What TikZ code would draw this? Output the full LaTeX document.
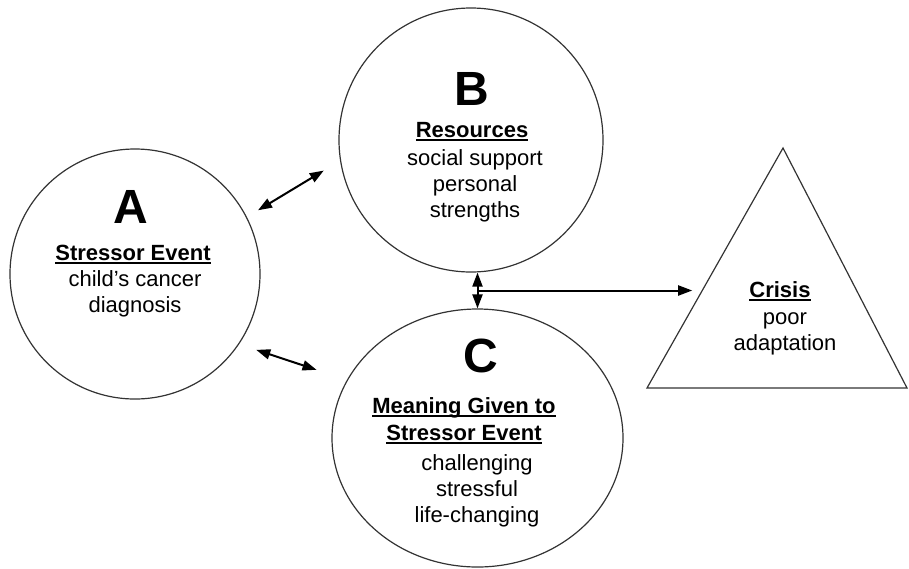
\documentclass[tikz,border=0pt]{standalone}
\usepackage{fontspec}
\setmainfont{Liberation Sans}
\usetikzlibrary{shapes.geometric,arrows.meta,calc}
\newsavebox\ulsave
\newcommand{\ulbox}[1]{\sbox\ulsave{#1}\rlap{\rule[-2pt]{\wd\ulsave}{0.8pt}}\usebox\ulsave}
\begin{document}
\begin{tikzpicture}[x=0.5pt,y=-0.5pt,
  ring/.style={draw=black!80,line width=0.6pt,inner sep=0pt},
  letter/.style={font=\fontsize{24}{24}\selectfont\bfseries,anchor=base,inner sep=0pt},
  head/.style={font=\fontsize{11}{13.5}\selectfont\bfseries,anchor=base,align=center,inner sep=0pt},
  body/.style={font=\fontsize{11}{13}\selectfont,anchor=base,align=center,inner sep=0pt},
  dbl/.style={{Triangle[length=7pt,width=5pt]}-{Triangle[length=7pt,width=5pt]},line width=1pt},
  one/.style={-{Triangle[length=7pt,width=5pt]},line width=1pt}]
 		\useasboundingbox (0,0) rectangle (909,568);
 		% the three factors
 		\node[ring,circle,minimum size=125pt] (nA) at (135,274) {};
 		\node[ring,circle,minimum size=132pt] (nB) at (471,140) {};
 		\node[ring,ellipse,minimum width=145.5pt,minimum height=129pt] (nC) at (477.5,438) {};
 		% crisis triangle
 		\coordinate (apex) at (783,148);
 		\coordinate (baseL) at (647,388);
 		\coordinate (baseR) at (907,388);
 		\draw[ring] (apex) -- (baseL) -- (baseR) -- cycle;
 		\coordinate (hit) at ($(apex)!0.594!(baseL)$);
 		% texts (base = last line)
 		\node[letter] (tA) at (131,223) {A};
 		\node[head] (hA) at (133,260) {\ulbox{Stressor Event}};
 		\node[body] (bA) at (135,312) {child's cancer\\diagnosis};
 		\node[letter] (tB) at (472,105) {B};
 		\node[head] (hB) at (472,137) {\ulbox{Resources}};
 		\node[body] (bB) at (475,217) {social support\\personal\\strengths};
 		\node[letter] (tC) at (481,372) {C};
 		\node[head] (hC) at (464,440) {\ulbox{Meaning Given to}\\\ulbox{Stressor Event}};
 		\node[body] (bC) at (477,522) {challenging\\stressful\\life-changing};
 		\node[head] (hD) at (780,297) {\ulbox{Crisis}};
 		\node[body] (bD) at (785,350) {poor\\adaptation};
 		% connectors
 		\draw[dbl,shorten <=6.5pt,shorten >=9.5pt] (nA.27) -- (nB.189);
 		\draw[dbl,shorten <=9pt,shorten >=16pt] (nA.-34) -- (nC.156);
 		\draw[dbl] (nC.north |- nB.south) -- (nC.north) coordinate[midway] (jn);
 		\draw[one,shorten >=5pt] (jn) -- (jn -| hit);
\end{tikzpicture}
\end{document}
